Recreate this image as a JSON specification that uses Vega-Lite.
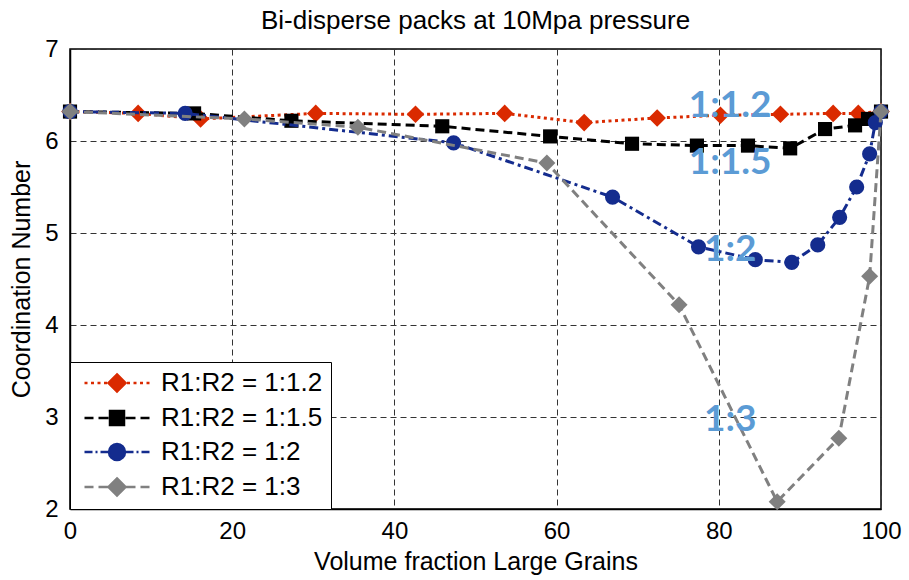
{
  "$schema": "https://vega.github.io/schema/vega-lite/v6.json",
  "width": 811,
  "height": 460,
  "autosize": {"type": "none"},
  "padding": {"left": 70, "top": 49, "right": 28, "bottom": 71},
  "background": "white",
  "title": {"text": "Bi-disperse packs at 10Mpa pressure", "fontSize": 26, "font": "Liberation Sans", "fontWeight": "normal", "color": "black", "offset": 3},
  "config": {
    "view": {"stroke": "black", "strokeWidth": 1.5},
    "axis": {
      "grid": true, "gridDash": [6, 4], "gridColor": "#333333", "gridWidth": 1, "gridOpacity": 1,
      "ticks": false, "domainColor": "black", "domainWidth": 1.5,
      "labelFontSize": 24, "labelFont": "Liberation Sans", "labelColor": "black", "labelFlush": false,
      "titleFontSize": 25, "titleFont": "Liberation Sans", "titleFontWeight": "normal", "titleColor": "black"
    }
  },
  "datasets": {
    "series": [
      {"series": "1:1.2", "x": 0, "y": 6.32},
      {"series": "1:1.2", "x": 8.4, "y": 6.30},
      {"series": "1:1.2", "x": 16.1, "y": 6.24},
      {"series": "1:1.2", "x": 30.3, "y": 6.30},
      {"series": "1:1.2", "x": 42.6, "y": 6.29},
      {"series": "1:1.2", "x": 53.6, "y": 6.30},
      {"series": "1:1.2", "x": 63.4, "y": 6.20},
      {"series": "1:1.2", "x": 72.4, "y": 6.25},
      {"series": "1:1.2", "x": 80.2, "y": 6.28},
      {"series": "1:1.2", "x": 87.6, "y": 6.29},
      {"series": "1:1.2", "x": 94.1, "y": 6.30},
      {"series": "1:1.2", "x": 97.2, "y": 6.30},
      {"series": "1:1.2", "x": 100, "y": 6.32},
      {"series": "1:1.5", "x": 0, "y": 6.32},
      {"series": "1:1.5", "x": 15.3, "y": 6.30},
      {"series": "1:1.5", "x": 27.3, "y": 6.22},
      {"series": "1:1.5", "x": 45.9, "y": 6.16},
      {"series": "1:1.5", "x": 59.2, "y": 6.05},
      {"series": "1:1.5", "x": 69.3, "y": 5.97},
      {"series": "1:1.5", "x": 77.3, "y": 5.95},
      {"series": "1:1.5", "x": 83.6, "y": 5.95},
      {"series": "1:1.5", "x": 88.8, "y": 5.92},
      {"series": "1:1.5", "x": 93.1, "y": 6.13},
      {"series": "1:1.5", "x": 96.8, "y": 6.17},
      {"series": "1:1.5", "x": 98.4, "y": 6.24},
      {"series": "1:1.5", "x": 100, "y": 6.32},
      {"series": "1:2", "x": 0, "y": 6.32},
      {"series": "1:2", "x": 14.2, "y": 6.30},
      {"series": "1:2", "x": 47.3, "y": 5.98},
      {"series": "1:2", "x": 66.9, "y": 5.39},
      {"series": "1:2", "x": 77.5, "y": 4.85},
      {"series": "1:2", "x": 84.5, "y": 4.71},
      {"series": "1:2", "x": 89.0, "y": 4.68},
      {"series": "1:2", "x": 92.2, "y": 4.87},
      {"series": "1:2", "x": 94.9, "y": 5.17},
      {"series": "1:2", "x": 97.0, "y": 5.50},
      {"series": "1:2", "x": 98.6, "y": 5.86},
      {"series": "1:2", "x": 99.3, "y": 6.20},
      {"series": "1:2", "x": 100, "y": 6.32},
      {"series": "1:3", "x": 0, "y": 6.32},
      {"series": "1:3", "x": 21.5, "y": 6.24},
      {"series": "1:3", "x": 35.5, "y": 6.15},
      {"series": "1:3", "x": 58.8, "y": 5.76},
      {"series": "1:3", "x": 75.1, "y": 4.22},
      {"series": "1:3", "x": 87.2, "y": 2.08},
      {"series": "1:3", "x": 94.8, "y": 2.77},
      {"series": "1:3", "x": 98.6, "y": 4.53},
      {"series": "1:3", "x": 100, "y": 6.32}
    ],
    "notes": [
      {"label": "1:1.2", "x": 81.4, "y": 6.38},
      {"label": "1:1.5", "x": 81.4, "y": 5.76},
      {"label": "1:2", "x": 81.4, "y": 4.82},
      {"label": "1:3", "x": 81.4, "y": 2.97}
    ]
  },
  "encoding": {
    "x": {"field": "x", "type": "quantitative", "scale": {"domain": [0, 100], "nice": false},
      "axis": {"title": "Volume fraction Large Grains", "values": [0, 20, 40, 60, 80, 100], "labelPadding": 10, "titlePadding": 6}},
    "y": {"field": "y", "type": "quantitative", "scale": {"domain": [2, 7], "nice": false, "zero": false},
      "axis": {"title": "Coordination Number", "values": [2, 3, 4, 5, 6, 7], "labelPadding": 12, "titlePadding": 10}},
    "color": {"field": "series", "type": "nominal", "scale": {"domain": ["1:1.2", "1:1.5", "1:2", "1:3"], "range": ["#DA2A00", "#000000", "#142C8E", "#808080"]}}
  },
  "layer": [
    {
      "data": {"name": "series"},
      "transform": [{"filter": "datum.series == '1:1.2'"}],
      "mark": {"type": "line", "strokeWidth": 3, "strokeDash": [3, 3.5]}
    },
    {
      "data": {"name": "series"},
      "transform": [{"filter": "datum.series == '1:1.2'"}],
      "mark": {"type": "point", "filled": true, "shape": "diamond", "size": 310, "opacity": 1}
    },
    {
      "data": {"name": "series"},
      "transform": [{"filter": "datum.series == '1:1.5'"}],
      "mark": {"type": "line", "strokeWidth": 3, "strokeDash": [9, 5]}
    },
    {
      "data": {"name": "series"},
      "transform": [{"filter": "datum.series == '1:1.5'"}],
      "mark": {"type": "point", "filled": true, "shape": "square", "size": 200, "opacity": 1}
    },
    {
      "data": {"name": "series"},
      "transform": [{"filter": "datum.series == '1:2'"}],
      "mark": {"type": "line", "strokeWidth": 3, "strokeDash": [9, 4, 3, 4]}
    },
    {
      "data": {"name": "series"},
      "transform": [{"filter": "datum.series == '1:2'"}],
      "mark": {"type": "point", "filled": true, "shape": "circle", "size": 230, "opacity": 1}
    },
    {
      "data": {"name": "series"},
      "transform": [{"filter": "datum.series == '1:3'"}],
      "mark": {"type": "line", "strokeWidth": 3, "strokeDash": [9, 5]}
    },
    {
      "data": {"name": "series"},
      "transform": [{"filter": "datum.series == '1:3'"}],
      "mark": {"type": "point", "filled": true, "shape": "diamond", "size": 290, "opacity": 1}
    },
    {
      "data": {"name": "series"},
      "transform": [{"filter": "datum.x < 0"}],
      "mark": {"type": "point", "filled": true, "opacity": 1},
      "encoding": {
        "color": {"field": "series", "type": "nominal",
          "legend": {"title": null, "orient": "bottom-left", "offset": 0, "fillColor": "white", "strokeColor": "black", "padding": 8, "rowPadding": 8,
            "labelFontSize": 26, "labelFont": "Liberation Sans", "labelColor": "black", "labelLimit": 400, "symbolSize": 400, "symbolOffset": 26, "labelOffset": 31, "symbolStrokeWidth": 2.5,
            "labelExpr": "'R1:R2 = ' + datum.label",
            "encode": {"symbols": {"update": {"stroke": {"scale": "color", "field": "value"}, "fill": {"scale": "color", "field": "value"}, "opacity": {"value": 1}}}}}},
        "shape": {"field": "series", "type": "nominal",
          "scale": {"domain": ["1:1.2", "1:1.5", "1:2", "1:3"], "range": [
            "M-3.25,0h0.3M-2.6,0h0.3M-1.95,0h0.3M-1.3,0h0.3M1.0,0h0.3M1.65,0h0.3M2.3,0h0.3M2.95,0h0.3M0,-0.85L0.85,0L0,0.85L-0.85,0Z",
            "M-3.25,0h0.9M-1.85,0h1.0M0.85,0h1.0M2.35,0h0.9M-0.7,-0.7h1.4v1.4h-1.4Z",
            "M-3.25,0h0.8M-2.15,0h0.2M-1.65,0h0.9M0.75,0h0.9M1.95,0h0.2M2.45,0h0.8M0.8,0A0.8,0.8 0 1,1 -0.8,0A0.8,0.8 0 1,1 0.8,0Z",
            "M-3.25,0h0.9M-1.85,0h1.0M0.85,0h1.0M2.35,0h0.9M0,-0.85L0.85,0L0,0.85L-0.85,0Z"
          ]},
          "legend": {"title": null, "orient": "bottom-left", "offset": 0, "fillColor": "white", "strokeColor": "black", "padding": 8, "rowPadding": 8,
            "labelFontSize": 26, "labelFont": "Liberation Sans", "labelColor": "black", "labelLimit": 400, "symbolSize": 400, "symbolOffset": 26, "labelOffset": 31, "symbolStrokeWidth": 2.5,
            "labelExpr": "'R1:R2 = ' + datum.label",
            "encode": {"symbols": {"update": {"stroke": {"scale": "color", "field": "value"}, "fill": {"scale": "color", "field": "value"}, "opacity": {"value": 1}}}}}}
      }
    },
    {
      "data": {"name": "notes"},
      "mark": {"type": "text", "font": "Lato", "fontWeight": "bold", "fontSize": 37, "color": "#5B9BD5", "align": "center", "baseline": "middle"},
      "encoding": {"text": {"field": "label"}, "color": {"value": "#5B9BD5"}}
    }
  ]
}
